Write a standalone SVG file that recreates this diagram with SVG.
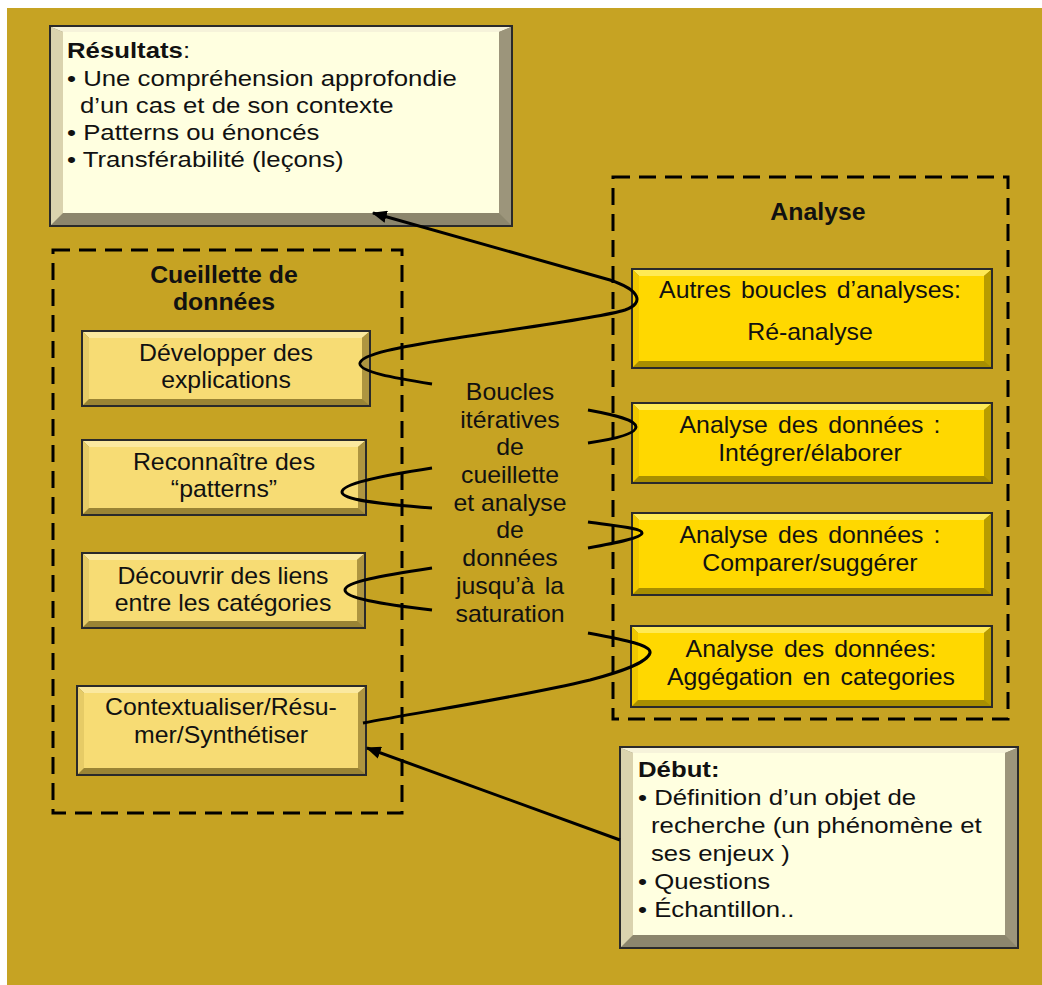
<svg xmlns="http://www.w3.org/2000/svg" width="1042" height="985" viewBox="0 0 1042 985">
<defs>
<style>
.t{font-family:"Liberation Sans",Arial,sans-serif;font-size:23px;fill:#111}
.b{font-weight:bold;font-size:23px}
.c{text-anchor:middle;transform-box:fill-box;transform-origin:center;transform:scaleX(1.08)}
.l{transform-box:fill-box;transform-origin:left center;transform:scaleX(1.12)}
.w{word-spacing:3px}
.dash{fill:none;stroke:#000;stroke-width:3;stroke-dasharray:17 9}
.edge{fill:none;stroke:#000;stroke-width:3}
.ol{stroke:#2a2a2a;stroke-width:2}
.cb{fill:#8C866D}.ct{fill:#F6F3DA}.cl{fill:#DAD3AE}.cr{fill:#9C957B}.ci{fill:#FFFFE0}
.yb{fill:#A88E00}.yt{fill:#FFEA55}.yl{fill:#F0C800}.yr{fill:#B89C00}.yi{fill:#FFD800}
.pb{fill:#9A8434}.pt{fill:#FBE9A0}.pl{fill:#E6CB66}.pr{fill:#AE9540}.pi{fill:#F7DC74}
</style>
<marker id="ah" viewBox="0 0 12 10" refX="11" refY="5" markerWidth="5" markerHeight="4.2" orient="auto" markerUnits="strokeWidth">
<path d="M0,0 L12,5 L0,10 z" fill="#000"/>
</marker>
</defs>
<rect x="7" y="8" width="1035" height="977" fill="#C6A323"/>

<rect class="dash" x="53" y="250" width="349" height="563"/>
<rect class="dash" x="613" y="177" width="395" height="542"/>

<g id="resultats">
<rect class="cb ol" x="50" y="26" width="462" height="200"/>
<polygon class="ct" points="51,27 511,27 499,32 63,32"/>
<polygon class="cl" points="51,27 63,32 63,213 51,225"/>
<polygon class="cr" points="511,27 511,225 499,213 499,32"/>
<rect class="ci" x="63" y="32" width="436" height="181"/>
<text class="t b l" x="67" y="58">Résultats<tspan font-weight="normal">:</tspan></text>
<text class="t l" x="67" y="86">• Une compréhension approfondie</text>
<text class="t l" x="80" y="113">d’un cas et de son contexte</text>
<text class="t l" x="67" y="140">• Patterns ou énoncés</text>
<text class="t l" x="67" y="167">• Transférabilité (leçons)</text>
</g>

<g id="cueillette-title">
<text class="t b c" x="224" y="283">Cueillette de</text>
<text class="t b c" x="224" y="310">données</text>
</g>

<g id="analyse-title">
<text class="t b c" x="818" y="220">Analyse</text>
</g>

<g id="developper">
<rect class="pb ol" x="82" y="331" width="288" height="75"/>
<polygon class="pt" points="83,332 369,332 362,338 89,338"/>
<polygon class="pl" points="83,332 89,338 89,399 83,405"/>
<polygon class="pr" points="369,332 369,405 362,399 362,338"/>
<rect class="pi" x="89" y="338" width="273" height="61"/>
<text class="t c" x="226" y="361">Développer des</text>
<text class="t c" x="226" y="388">explications</text>
</g>

<g id="reconnaitre">
<rect class="pb ol" x="82" y="440" width="284" height="75"/>
<polygon class="pt" points="83,441 365,441 358,447 89,447"/>
<polygon class="pl" points="83,441 89,447 89,508 83,514"/>
<polygon class="pr" points="365,441 365,514 358,508 358,447"/>
<rect class="pi" x="89" y="447" width="269" height="61"/>
<text class="t c" x="224" y="470">Reconnaître des</text>
<text class="t c" x="224" y="497">“patterns”</text>
</g>

<g id="decouvrir">
<rect class="pb ol" x="82" y="553" width="283" height="75"/>
<polygon class="pt" points="83,554 364,554 357,560 89,560"/>
<polygon class="pl" points="83,554 89,560 89,621 83,627"/>
<polygon class="pr" points="364,554 364,627 357,621 357,560"/>
<rect class="pi" x="89" y="560" width="268" height="61"/>
<text class="t c" x="223" y="584">Découvrir des liens</text>
<text class="t c" x="223" y="611">entre les catégories</text>
</g>

<g id="contextualiser">
<rect class="pb ol" x="77" y="686" width="289" height="89"/>
<polygon class="pt" points="78,687 365,687 358,693 84,693"/>
<polygon class="pl" points="78,687 84,693 84,768 78,774"/>
<polygon class="pr" points="365,687 365,774 358,768 358,693"/>
<rect class="pi" x="84" y="693" width="274" height="75"/>
<text class="t c" x="221" y="715">Contextualiser/Résu-</text>
<text class="t c" x="221" y="743">mer/Synthétiser</text>
</g>

<g id="autres">
<rect class="yb ol" x="632" y="269" width="360" height="99"/>
<polygon class="yt" points="633,270 991,270 984,276 639,276"/>
<polygon class="yl" points="633,270 639,276 639,361 633,367"/>
<polygon class="yr" points="991,270 991,367 984,361 984,276"/>
<rect class="yi" x="639" y="276" width="345" height="85"/>
<text class="t c w" x="810" y="298">Autres boucles d’analyses:</text>
<text class="t c" x="810" y="340">Ré-analyse</text>
</g>

<g id="integrer">
<rect class="yb ol" x="632" y="403" width="360" height="80"/>
<polygon class="yt" points="633,404 991,404 984,410 639,410"/>
<polygon class="yl" points="633,404 639,410 639,476 633,482"/>
<polygon class="yr" points="991,404 991,482 984,476 984,410"/>
<rect class="yi" x="639" y="410" width="345" height="66"/>
<text class="t c w" x="810" y="433">Analyse des données :</text>
<text class="t c" x="810" y="461">Intégrer/élaborer</text>
</g>

<g id="comparer">
<rect class="yb ol" x="632" y="513" width="360" height="82"/>
<polygon class="yt" points="633,514 991,514 984,520 639,520"/>
<polygon class="yl" points="633,514 639,520 639,588 633,594"/>
<polygon class="yr" points="991,514 991,594 984,588 984,520"/>
<rect class="yi" x="639" y="520" width="345" height="68"/>
<text class="t c w" x="810" y="543">Analyse des données :</text>
<text class="t c" x="810" y="571">Comparer/suggérer</text>
</g>

<g id="aggregation">
<rect class="yb ol" x="631" y="626" width="361" height="81"/>
<polygon class="yt" points="632,627 991,627 984,633 638,633"/>
<polygon class="yl" points="632,627 638,633 638,700 632,706"/>
<polygon class="yr" points="991,627 991,706 984,700 984,633"/>
<rect class="yi" x="638" y="633" width="346" height="67"/>
<text class="t c w" x="811" y="657">Analyse des données:</text>
<text class="t c w" x="811" y="685">Aggégation en categories</text>
</g>

<g id="debut">
<rect class="cb ol" x="620" y="747" width="398" height="201"/>
<polygon class="ct" points="621,748 1017,748 1005,753 633,753"/>
<polygon class="cl" points="621,748 633,753 633,935 621,947"/>
<polygon class="cr" points="1017,748 1017,947 1005,935 1005,753"/>
<rect class="ci" x="633" y="753" width="372" height="182"/>
<text class="t b l" x="638" y="777">Début:</text>
<text class="t l" x="638" y="805">• Définition d’un objet de</text>
<text class="t l" x="651" y="833">recherche (un phénomène et</text>
<text class="t l" x="651" y="861">ses enjeux  )</text>
<text class="t l" x="638" y="889">• Questions</text>
<text class="t l" x="638" y="917">• Échantillon..</text>
</g>

<g id="boucles-label">
<text class="t c" x="510" y="400">Boucles</text>
<text class="t c" x="510" y="428">itératives</text>
<text class="t c" x="510" y="455">de</text>
<text class="t c" x="510" y="483">cueillette</text>
<text class="t c" x="510" y="511">et analyse</text>
<text class="t c" x="510" y="538">de</text>
<text class="t c" x="510" y="566">données</text>
<text class="t c w" x="510" y="594">jusqu’à la</text>
<text class="t c" x="510" y="622">saturation</text>
</g>

<g id="connectors">
<path class="edge" marker-end="url(#ah)" d="M432,384 C395,378 358,372 360,363 C362,354 400,347 450,339 C520,328 600,318 625,310 C645,303 640,290 610,280 L373,213"/>
<path class="edge" d="M588,410 C615,415 636,420 636,427 C636,434 615,439 588,443"/>
<path class="edge" d="M432,468 C380,476 342,484 342,492 C342,500 380,504 432,508"/>
<path class="edge" d="M588,522 C615,526 642,528 642,533 C642,538 615,543 588,548"/>
<path class="edge" d="M432,568 C380,576 345,582 345,590 C345,598 380,604 432,610"/>
<path class="edge" d="M588,633 C625,640 652,645 650,653 C647,663 620,672 590,680 C520,697 420,712 363,723"/>
<path class="edge" marker-end="url(#ah)" d="M620,840 L367,748"/>
</g>
</svg>
